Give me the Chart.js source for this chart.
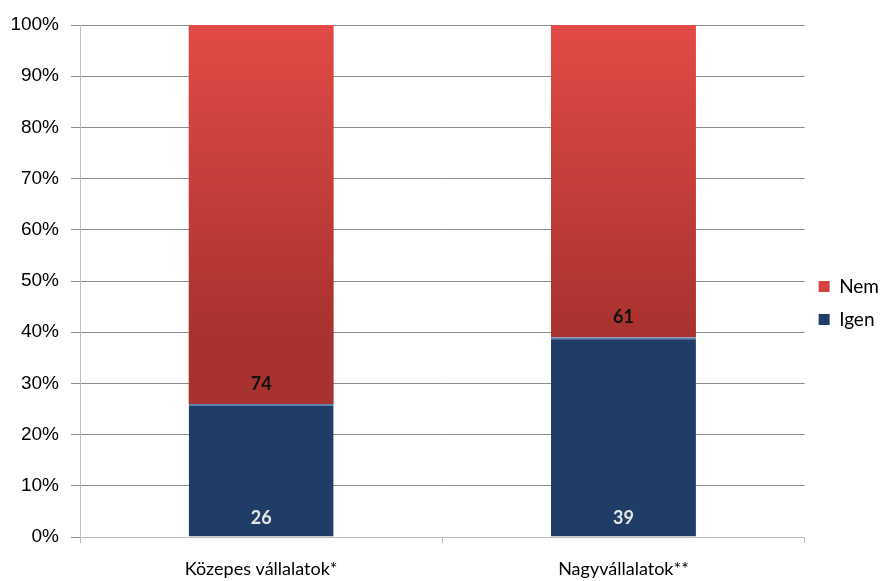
<!DOCTYPE html>
<html>
<head>
<meta charset="utf-8">
<script src="https://cdn.jsdelivr.net/npm/chart.js@4/dist/chart.umd.min.js"></script>
<style>
  html, body { margin: 0; padding: 0; background: #fff; overflow: hidden; }
  #wrap { width: 889px; height: 581px; position: relative; }
</style>
</head>
<body>
<div id="wrap"><canvas id="chart"></canvas></div>
<script>
var categories = ['Közepes vállalatok*', 'Nagyvállalatok**'];
var igenValues = [26, 39];
var nemValues = [74, 61];
var yTicks = [0, 10, 20, 30, 40, 50, 60, 70, 80, 90, 100];

// vertical shading like the original office chart
function redFill(context) {
  var area = context.chart.chartArea;
  if (!area) return '#D4433F';
  var g = context.chart.ctx.createLinearGradient(0, area.top, 0, area.bottom);
  g.addColorStop(0, '#E24A46');
  g.addColorStop(0.6, '#A8322F');
  g.addColorStop(1, '#A8322F');
  return g;
}

var valueLabels = {
  id: 'valueLabels',
  afterDatasetsDraw: function(chart) {
    var ctx = chart.ctx;
    ctx.save();
    ctx.textAlign = 'center';
    ctx.textBaseline = 'bottom';
    ctx.font = 'bold 18px Lato, sans-serif';
    chart.data.datasets.forEach(function(ds, di) {
      var meta = chart.getDatasetMeta(di);
      meta.data.forEach(function(bar, i) {
        ctx.fillStyle = di == 0 ? '#E6E6E6' : '#111111';
        ctx.fillText(ds.data[i], bar.x, bar.base - (di == 0 ? 9 : 11));
      });
    });
    ctx.restore();
  }
};

new Chart(document.getElementById('chart').getContext('2d'), {
  type: 'bar',
  data: {
    labels: categories,
    datasets: [
      {
        label: 'Igen',
        data: igenValues,
        backgroundColor: '#1F3D66',
        borderColor: '#5B80B2',
        borderWidth: { top: 2, left: 0, right: 0, bottom: 0 },
        borderSkipped: false,
        categoryPercentage: 1,
        barPercentage: 0.4
      },
      {
        label: 'Nem',
        data: nemValues,
        backgroundColor: redFill,
        borderWidth: 0,
        categoryPercentage: 1,
        barPercentage: 0.4
      }
    ]
  },
  plugins: [valueLabels],
  options: {
    responsive: true,
    maintainAspectRatio: false,
    animation: false,
    layout: { padding: { top: 25, right: 0, bottom: 0, left: 0 } },
    plugins: {
      tooltip: { enabled: false },
      legend: {
        position: 'right',
        reverse: true,
        labels: {
          boxWidth: 11,
          boxHeight: 11,
          padding: 14,
          color: '#000',
          font: { family: 'Lato, sans-serif', size: 19 },
          generateLabels: function(chart) {
            var cols = ['#1F3D66', '#D4433F'];
            return chart.data.datasets.map(function(ds, i) {
              return { text: ds.label, fillStyle: cols[i], strokeStyle: cols[i], lineWidth: 0, datasetIndex: i };
            });
          }
        }
      }
    },
    scales: {
      x: {
        stacked: true,
        afterFit: function(axis) { axis.height = 44; },
        grid: { display: true, offset: true, drawOnChartArea: false, color: '#BFBFBF', tickLength: 6 },
        border: { color: '#BFBFBF' },
        ticks: { color: '#000', padding: 15, font: { family: 'Lato, sans-serif', size: 18 } }
      },
      y: {
        stacked: true,
        min: 0,
        max: 100,
        afterBuildTicks: function(axis) {
          axis.ticks = yTicks.map(function(v) { return { value: v }; });
        },
        afterFit: function(axis) { axis.width = 80; },
        grid: { color: '#8C8C8C', tickLength: 9 },
        border: { color: '#BFBFBF' },
        ticks: {
          color: '#000',
          padding: 12,
          font: { family: '"Liberation Sans Narrow", "Liberation Sans", sans-serif', size: 19 },
          callback: function(v) { return v + '%'; }
        }
      }
    }
  }
});
</script>
</body>
</html>
